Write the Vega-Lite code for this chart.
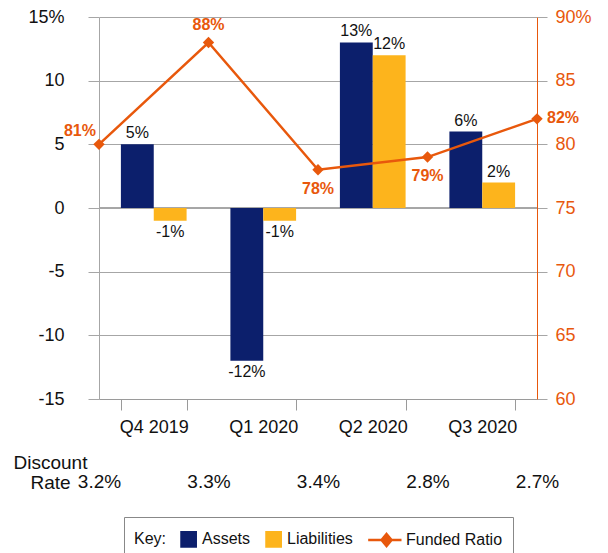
{
  "$schema": "https://vega.github.io/schema/vega-lite/v6.json",
  "width": 438,
  "height": 382,
  "autosize": {"type": "none"},
  "padding": {"left": 99, "top": 17, "right": 71, "bottom": 154},
  "background": "white",
  "config": {
    "font": "Liberation Sans",
    "view": {"stroke": null},
    "axis": {"labelFont": "Liberation Sans", "titleFont": "Liberation Sans"}
  },
  "datasets": {
    "bars": [
      {"quarter": "Q4 2019", "series": "Assets", "value": 5, "label": "5%"},
      {"quarter": "Q4 2019", "series": "Liabilities", "value": -1, "label": "-1%"},
      {"quarter": "Q1 2020", "series": "Assets", "value": -12, "label": "-12%"},
      {"quarter": "Q1 2020", "series": "Liabilities", "value": -1, "label": "-1%"},
      {"quarter": "Q2 2020", "series": "Assets", "value": 13, "label": "13%"},
      {"quarter": "Q2 2020", "series": "Liabilities", "value": 12, "label": "12%"},
      {"quarter": "Q3 2020", "series": "Assets", "value": 6, "label": "6%"},
      {"quarter": "Q3 2020", "series": "Liabilities", "value": 2, "label": "2%"}
    ],
    "funded": [
      {"idx": 0, "ratio": 80, "label": "81%", "discount": "3.2%"},
      {"idx": 1, "ratio": 88, "label": "88%", "discount": "3.3%"},
      {"idx": 2, "ratio": 78, "label": "78%", "discount": "3.4%"},
      {"idx": 3, "ratio": 79, "label": "79%", "discount": "2.8%"},
      {"idx": 4, "ratio": 82, "label": "82%", "discount": "2.7%"}
    ]
  },
  "layer": [
    {
      "data": {"name": "bars"},
      "encoding": {
        "x": {
          "field": "quarter", "type": "nominal", "sort": null,
          "scale": {"paddingInner": 0.4, "paddingOuter": 0.2},
          "axis": {
            "title": null, "orient": "bottom", "labelAngle": 0,
            "tickBand": "extent", "tickSize": 11, "tickColor": "#9a9a9a",
            "domainColor": "#9a9a9a", "labelFontSize": 18, "labelColor": "#111",
            "labelPadding": 8, "labelFont": "Liberation Sans"
          }
        },
        "xOffset": {"field": "series", "type": "nominal", "sort": ["Assets", "Liabilities"], "scale": {"paddingInner": 0, "paddingOuter": 0}},
        "y": {
          "field": "value", "type": "quantitative",
          "scale": {"domain": [-15, 15], "nice": false, "zero": false},
          "axis": {
            "title": null, "orient": "left", "values": [-15, -10, -5, 0, 5, 10, 15],
            "labelExpr": "datum.value == 15 ? '15%' : '' + datum.value",
            "grid": true, "gridColor": "#a6a6a6", "tickColor": "#a6a6a6", "domainColor": "#a6a6a6",
            "tickSize": 11, "labelPadding": 24, "labelFontSize": 18, "labelColor": "#111",
            "encode": {"labels": {"update": {"dx": {"signal": "datum.value == 15 ? 17 : 0"}}}}
          }
        }
      },
      "layer": [
        {"mark": {"type": "rule", "color": "#a6a6a6", "strokeWidth": 1}, "encoding": {"y": {"datum": 0}, "xOffset": null, "x": null}},
        {
          "mark": {"type": "bar"},
          "encoding": {
            "color": {
              "field": "series", "type": "nominal",
              "scale": {"domain": ["Assets", "Liabilities", "Funded Ratio"], "range": ["#0c1f6c", "#fdb41c", "#e8580c"]},
              "legend": {
                "title": "Key:", "orient": "none", "legendX": 25, "legendY": 500,
                "direction": "horizontal", "titleOrient": "left", "titleFontSize": 16,
                "titleFontWeight": "normal", "titleColor": "#111", "titlePadding": 13, "titleBaseline": "middle",
                "labelFontSize": 16, "labelColor": "#111", "labelOffset": -2,
                "symbolSize": 441, "symbolStrokeWidth": 0, "columnPadding": 10,
                "strokeColor": "#888", "padding": 10, "fillColor": "white",
                "encode": {
                  "symbols": {
                    "update": {
                      "shape": {"signal": "datum.value == 'Funded Ratio' ? 'M-2.65,0H0.524M-0.9,-0.571L-0.424,0L-0.9,0.571L-1.376,0Z' : 'M-1,-0.678H0.356V0.678H-1Z'"},
                      "stroke": {"signal": "datum.value == 'Funded Ratio' ? '#e8580c' : 'transparent'"},
                      "strokeWidth": {"value": 2.5},
                      "fillOpacity": {"value": 1}
                    }
                  }
                }
              }
            }
          }
        },
        {
          "transform": [{"filter": "datum.value >= 0"}],
          "mark": {"type": "text", "baseline": "bottom", "dy": -3, "fontSize": 16, "color": "#111"},
          "encoding": {"text": {"field": "label"}}
        },
        {
          "transform": [{"filter": "datum.value < 0"}],
          "mark": {"type": "text", "baseline": "top", "dy": 3, "fontSize": 16, "color": "#111"},
          "encoding": {"text": {"field": "label"}}
        }
      ]
    },
    {
      "data": {"name": "funded"},
      "encoding": {
        "x": {
          "field": "idx", "type": "quantitative",
          "scale": {"domain": [0, 4], "nice": false, "zero": false},
          "axis": {
            "orient": "bottom", "values": [0, 1, 2, 3, 4], "offset": 68,
            "labelExpr": "['3.2%','3.3%','3.4%','2.8%','2.7%'][datum.value]",
            "domain": false, "ticks": false, "tickSize": 0, "grid": false,
            "labelPadding": 5, "labelFontSize": 19, "labelColor": "#111",
            "labelFlush": false,
            "title": ["Discount", "Rate"], "titleFontSize": 19, "titleFontWeight": "normal",
            "titleColor": "#111", "titleAnchor": null, "titleAlign": "center", "titleBaseline": "top",
            "titleX": -49, "titleY": -14, "titleLineHeight": 20,
            "encode": {"labels": {"update": {"dx": {"signal": "datum.value == 0 ? 12 : datum.value == 4 ? -5 : datum.value == 1 ? 2 : 0"}}}}
          }
        },
        "y": {
          "field": "ratio", "type": "quantitative",
          "scale": {"domain": [60, 90], "nice": false, "zero": false},
          "axis": {
            "title": null, "orient": "right", "values": [60, 65, 70, 75, 80, 85, 90],
            "labelExpr": "datum.value == 90 ? '90%' : '' + datum.value",
            "grid": false, "domainColor": "#e8580c", "tickColor": "#a6a6a6", "tickSize": 10,
            "labelColor": "#e8580c", "labelFontSize": 18, "labelPadding": 8
          }
        },
        "color": {"datum": "Funded Ratio"}
      },
      "layer": [
        {"mark": {"type": "line", "strokeWidth": 2.5}},
        {"mark": {"type": "point", "shape": "diamond", "filled": true, "size": 130, "opacity": 1}},
        {
          "transform": [{"filter": "datum.idx == 0"}],
          "mark": {"type": "text", "align": "right", "baseline": "alphabetic", "dx": -3, "dy": -8, "fontSize": 16, "fontWeight": "bold"},
          "encoding": {"text": {"field": "label"}}
        },
        {
          "transform": [{"filter": "datum.idx == 1"}],
          "mark": {"type": "text", "align": "center", "baseline": "alphabetic", "dy": -12, "fontSize": 16, "fontWeight": "bold"},
          "encoding": {"text": {"field": "label"}}
        },
        {
          "transform": [{"filter": "datum.idx == 2 || datum.idx == 3"}],
          "mark": {"type": "text", "align": "center", "baseline": "alphabetic", "dy": 24, "fontSize": 16, "fontWeight": "bold"},
          "encoding": {"text": {"field": "label"}}
        },
        {
          "transform": [{"filter": "datum.idx == 4"}],
          "mark": {"type": "text", "align": "left", "baseline": "alphabetic", "dx": 10, "dy": 4, "fontSize": 16, "fontWeight": "bold"},
          "encoding": {"text": {"field": "label"}}
        }
      ]
    }
  ],
  "resolve": {"scale": {"x": "independent", "y": "independent"}, "axis": {"x": "independent", "y": "independent"}}
}
